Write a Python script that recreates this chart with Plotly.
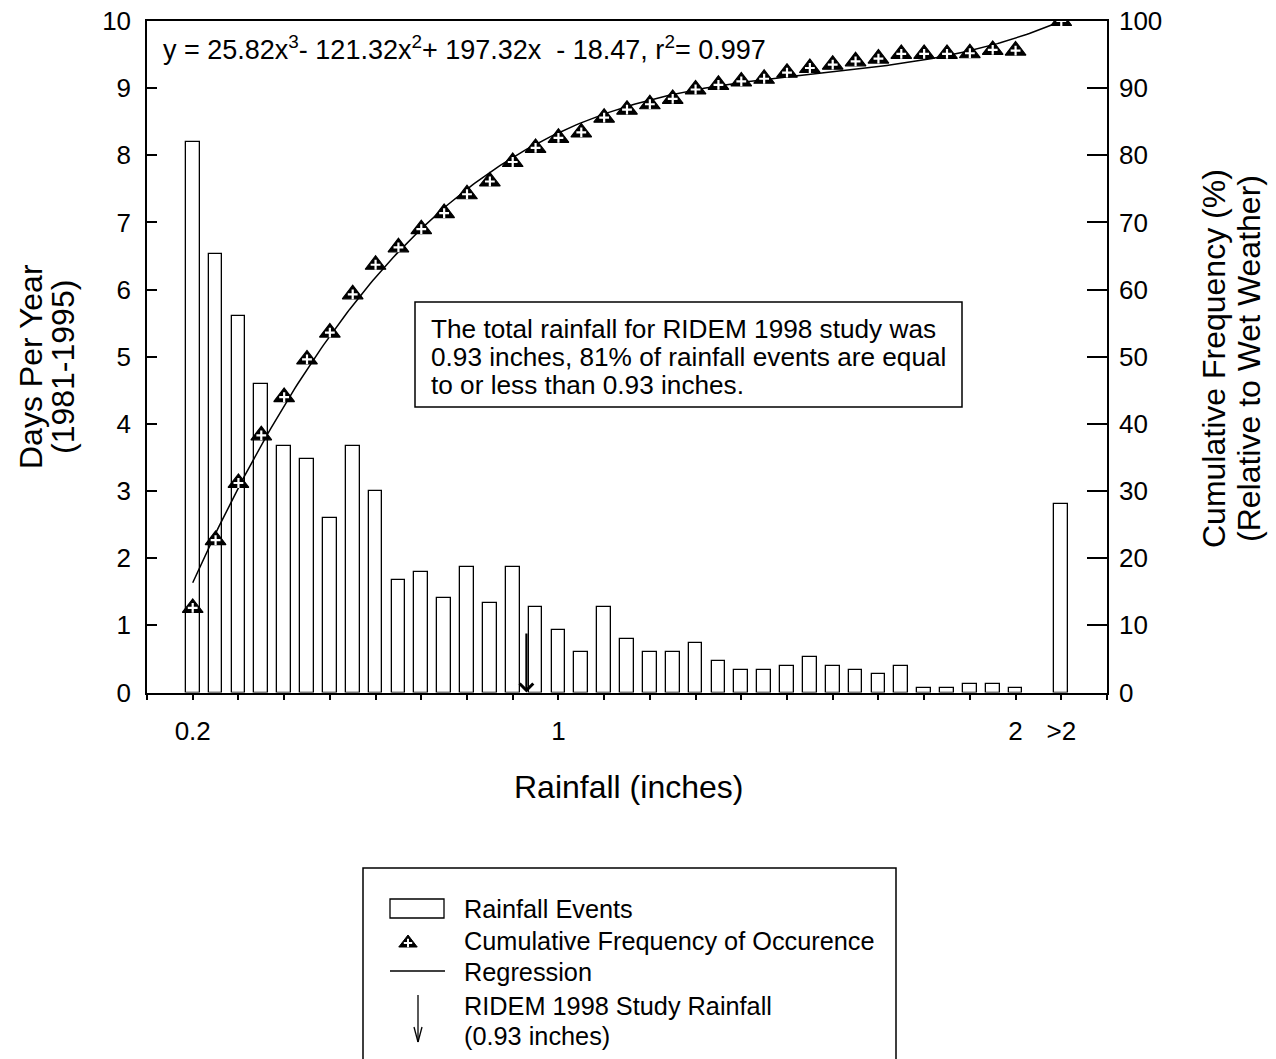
import numpy as np
import plotly.graph_objects as go

# ---------------- data ----------------
rain_bins = [0.20, 0.25, 0.30, 0.35, 0.40, 0.45, 0.50, 0.55, 0.60, 0.65,
             0.70, 0.75, 0.80, 0.85, 0.90, 0.95, 1.00, 1.05, 1.10, 1.15,
             1.20, 1.25, 1.30, 1.35, 1.40, 1.45, 1.50, 1.55, 1.60, 1.65,
             1.70, 1.75, 1.80, 1.85, 1.90, 1.95, 2.00, 2.10]
days_per_year = [8.20, 6.53, 5.60, 4.60, 3.67, 3.47, 2.60, 3.67, 3.00, 1.67,
                 1.80, 1.40, 1.87, 1.33, 1.87, 1.27, 0.93, 0.60, 1.27, 0.80,
                 0.60, 0.60, 0.73, 0.47, 0.33, 0.33, 0.40, 0.53, 0.40, 0.33,
                 0.27, 0.40, 0.07, 0.07, 0.13, 0.13, 0.07, 2.80]
cum_freq = [12.6, 22.7, 31.2, 38.3, 44.0, 49.6, 53.6, 59.3, 63.7, 66.3,
            69.0, 71.4, 74.2, 76.1, 79.0, 81.1, 82.6, 83.4, 85.6, 86.8,
            87.6, 88.4, 89.8, 90.5, 91.0, 91.4, 92.3, 93.0, 93.5, 94.0,
            94.4, 95.1, 95.1, 95.1, 95.2, 95.7, 95.6, 100.0]
x_tick_vals = [0.2, 1.0, 2.0, 2.1]
x_tick_text = ["0.2", "1", "2", ">2"]
x_minor_step = 0.1
regression_coef = [25.82, -121.32, 197.32, -18.47]   # from the printed equation
regression_span = [0.2, 2.1]
study_rainfall = 0.93
study_arrow_top = 0.9

FONT = "Liberation Sans, Arial, sans-serif"
W, H = 1276, 1059

fit_x = np.linspace(regression_span[0], regression_span[1], 300)
fit_y = np.polyval(regression_coef, fit_x)

fig = go.Figure()

fig.add_trace(go.Bar(x=rain_bins, y=days_per_year, width=0.03,
                     marker=dict(color="white", line=dict(color="black", width=1.3)),
                     xaxis="x", yaxis="y", showlegend=False))
fig.add_trace(go.Scatter(x=fit_x, y=fit_y, mode="lines",
                         line=dict(color="black", width=1.5),
                         xaxis="x", yaxis="y2", showlegend=False))
fig.add_trace(go.Scatter(x=rain_bins, y=cum_freq, mode="markers",
                         marker=dict(symbol="triangle-up", size=18, color="black",
                                     line=dict(color="black", width=1.2)),
                         xaxis="x", yaxis="y2", showlegend=False))
fig.add_trace(go.Scatter(x=rain_bins, y=cum_freq, mode="markers",
                         marker=dict(symbol="cross-thin", size=7, color="white",
                                     line=dict(color="white", width=2.2)),
                         xaxis="x", yaxis="y2", showlegend=False))

# legend marker sample (pixel overlay axes)
fig.add_trace(go.Scatter(x=[408], y=[943], mode="markers",
                         marker=dict(symbol="triangle-up", size=16, color="black",
                                     line=dict(color="black", width=1)),
                         xaxis="x3", yaxis="y3", showlegend=False, hoverinfo="skip"))
fig.add_trace(go.Scatter(x=[408], y=[943], mode="markers",
                         marker=dict(symbol="cross-thin", size=6, color="white",
                                     line=dict(color="white", width=2)),
                         xaxis="x3", yaxis="y3", showlegend=False, hoverinfo="skip"))

x0d, x1d = 147 / W, 1107 / W
y0d, y1d = 1 - 692.5 / H, 1 - 21 / H

tickfont = dict(family=FONT, size=26, color="black")

fig.update_layout(
    template="none",
    width=W, height=H, autosize=False,
    margin=dict(l=0, r=0, t=0, b=0, pad=0),
    paper_bgcolor="white", plot_bgcolor="rgba(0,0,0,0)",
    font=dict(family=FONT, color="black"),
    bargap=0, showlegend=False,
    xaxis=dict(domain=[x0d, x1d], range=[0.1, 2.2], tickmode="array",
               tickvals=x_tick_vals, ticktext=x_tick_text, ticks="outside",
               ticklen=6, tickwidth=1.5, tickcolor="black",
               minor=dict(ticks="outside", ticklen=6, tickwidth=1.5,
                          tickcolor="black", dtick=x_minor_step, tick0=0.2,
                          showgrid=False),
               showline=True, linecolor="black", linewidth=1.5, mirror=True,
               showgrid=False, zeroline=False, tickfont=tickfont,
               ticklabelstandoff=9, automargin=False),
    yaxis=dict(domain=[y0d, y1d], range=[0, 10], dtick=1, ticks="inside",
               ticklen=10, tickwidth=1.5, tickcolor="black", showline=True,
               linecolor="black", linewidth=1.5, showgrid=False, zeroline=False,
               tickfont=tickfont, ticklabelstandoff=9, automargin=False),
    yaxis2=dict(domain=[y0d, y1d], range=[0, 100], dtick=10, overlaying="y",
                side="right", anchor="x", ticks="inside", ticklen=20, tickwidth=1.5,
                tickcolor="black", showline=True, linecolor="black", linewidth=1.5,
                showgrid=False, zeroline=False, tickfont=tickfont,
                ticklabelstandoff=5, automargin=False),
    xaxis3=dict(domain=[0, 1], range=[0, W], visible=False, anchor="y3",
                automargin=False),
    yaxis3=dict(domain=[0, 1], range=[H, 0], visible=False, anchor="x3",
                automargin=False),
)

ann = []
shapes = []


def px_text(x, y, text, size, xanchor="left", angle=0):
    ann.append(dict(x=x, y=y, xref="x3", yref="y3", text=text, showarrow=False,
                    xanchor=xanchor, yanchor="middle", textangle=angle,
                    font=dict(family=FONT, size=size, color="black")))


# axis titles
px_text(628, 787, "Rainfall (inches)", 32, xanchor="center")
px_text(31, 367, "Days Per Year", 32, xanchor="center", angle=-90)
px_text(63, 367, "(1981-1995)", 32, xanchor="center", angle=-90)
px_text(1214, 359, "Cumulative Frequency (%)", 32, xanchor="center", angle=-90)
px_text(1249, 359, "(Relative to Wet Weather)", 32, xanchor="center", angle=-90)

# equation
px_text(161, 48, "y = 25.82x<sup>3</sup>- 121.32x<sup>2</sup>+ 197.32x\u00a0 - 18.47, r<sup>2</sup>= 0.997", 27)

# note box
shapes.append(dict(type="rect", xref="x3", yref="y3", x0=415, x1=962, y0=302, y1=407,
                   line=dict(color="black", width=1.5), fillcolor="white", layer="below"))
px_text(429, 329, "The total rainfall for RIDEM 1998 study was", 26.2)
px_text(429, 357, "0.93 inches, 81% of rainfall events are equal", 26.2)
px_text(429, 385, "to or less than 0.93 inches.", 26.2)

# study rainfall arrow (data coordinates)
ann.append(dict(x=study_rainfall, y=0, xref="x", yref="y", ax=study_rainfall,
                ay=study_arrow_top, axref="x", ayref="y", showarrow=True,
                arrowhead=4, arrowsize=1.2, arrowwidth=2.2, arrowcolor="black",
                text=""))

# legend box
shapes.append(dict(type="rect", xref="x3", yref="y3", x0=363, x1=896, y0=868, y1=1080,
                   line=dict(color="black", width=1.5), fillcolor="rgba(0,0,0,0)"))
shapes.append(dict(type="rect", xref="x3", yref="y3", x0=390, x1=444, y0=899, y1=918,
                   line=dict(color="black", width=1.3), fillcolor="white"))
px_text(462, 909, "Rainfall Events", 25.3)
px_text(462, 941, "Cumulative Frequency of Occurence", 25.3)
shapes.append(dict(type="line", xref="x3", yref="y3", x0=390, x1=445, y0=971, y1=971,
                   line=dict(color="black", width=1.3)))
px_text(462, 972, "Regression", 25.3)
shapes.append(dict(type="line", xref="x3", yref="y3", x0=418, x1=418, y0=995, y1=1042,
                   line=dict(color="black", width=1.3)))
shapes.append(dict(type="line", xref="x3", yref="y3", x0=414, x1=418, y0=1027, y1=1042,
                   line=dict(color="black", width=1.3)))
shapes.append(dict(type="line", xref="x3", yref="y3", x0=422, x1=418, y0=1027, y1=1042,
                   line=dict(color="black", width=1.3)))
px_text(462, 1006, "RIDEM 1998 Study Rainfall", 25.3)
px_text(462, 1036, "(0.93 inches)", 25.3)

fig.update_layout(annotations=ann, shapes=shapes)

fig.write_html("out.html")
